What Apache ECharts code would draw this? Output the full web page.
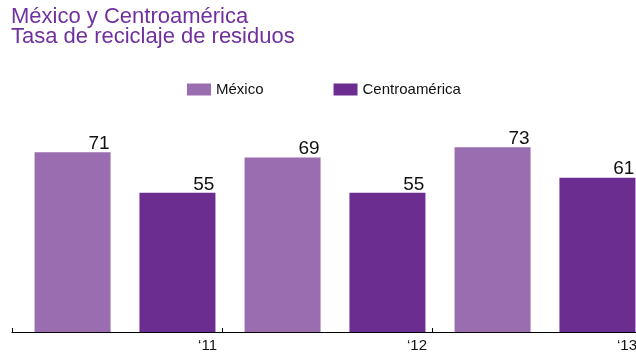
<!DOCTYPE html>
<html>
<head>
<meta charset="utf-8">
<script src="https://cdn.jsdelivr.net/npm/echarts@6/dist/echarts.min.js"></script>
<style>
  html, body { margin: 0; padding: 0; background: #fff; }
  #chart { width: 636px; height: 354px; }
</style>
</head>
<body>
<div id="chart"></div>
<script>
// datos
const years = ['‘11', '‘12', '‘13'];
const mexico = [71, 69, 73];
const centro = [55, 55, 61];

const chart = echarts.init(document.getElementById('chart'));

const labelStyle = {
    show: true,
    position: ['100%', 0],
    align: 'right',
    verticalAlign: 'bottom',
    offset: [-1, 1],
    fontFamily: 'Liberation Sans',
    fontSize: 19,
    color: '#111',
};

chart.setOption({
    animation: false,
    title: {
        text: 'México y Centroamérica\nTasa de reciclaje de residuos',
        left: 6,
        top: 2,
        textStyle: {
            fontFamily: 'Liberation Sans',
            fontWeight: 'normal',
            fontSize: 22,
            lineHeight: 20,
            color: '#7030A0',
        },
    },
    legend: {
        left: 182,
        top: 77,
        icon: 'rect',
        itemWidth: 24,
        itemHeight: 12,
        itemGap: 70,
        textStyle: {
            fontFamily: 'Liberation Sans',
            fontSize: 15,
            color: '#111',
        },
        data: ['México', 'Centroamérica'],
    },
    color: ['#9A6DB0', '#6B2D90'],
    // grid 0: barras, grid 1: eje con marcas (se salen por la derecha)
    grid: [
        { left: 20, width: 630, top: 79, bottom: 22, outerBoundsMode: 'none' },
        { left: 12, width: 630, top: 79, bottom: 22, outerBoundsMode: 'none' },
    ],
    xAxis: [
        {
            type: 'category',
            gridIndex: 0,
            data: years,
            axisLine: { show: false },
            axisTick: { show: false },
            axisLabel: { show: false },
        },
        {
            type: 'value',
            gridIndex: 1,
            min: 0,
            max: 3,
            interval: 1,
            splitLine: { show: false },
            axisLine: { show: true, lineStyle: { color: '#000', width: 1 } },
            axisTick: { show: true, inside: true, length: 4, lineStyle: { color: '#000' } },
            axisLabel: {
                align: 'right',
                margin: 6,
                padding: [0, 5, 0, 0],
                fontFamily: 'Liberation Sans',
                fontSize: 15,
                color: '#111',
                formatter: (v) => (v > 0 ? years[v - 1] : ''),
            },
        },
    ],
    yAxis: [
        { type: 'value', gridIndex: 0, min: 0, max: 100, show: false, splitLine: { show: false } },
        { type: 'value', gridIndex: 1, min: 0, max: 100, show: false, splitLine: { show: false } },
    ],
    series: [
        {
            name: 'México',
            type: 'bar',
            xAxisIndex: 0,
            yAxisIndex: 0,
            barWidth: 76,
            barGap: '38%',
            data: mexico,
            label: labelStyle,
        },
        {
            name: 'Centroamérica',
            type: 'bar',
            xAxisIndex: 0,
            yAxisIndex: 0,
            barWidth: 76,
            barGap: '38%',
            data: centro,
            label: labelStyle,
        },
    ],
});
</script>
</body>
</html>
